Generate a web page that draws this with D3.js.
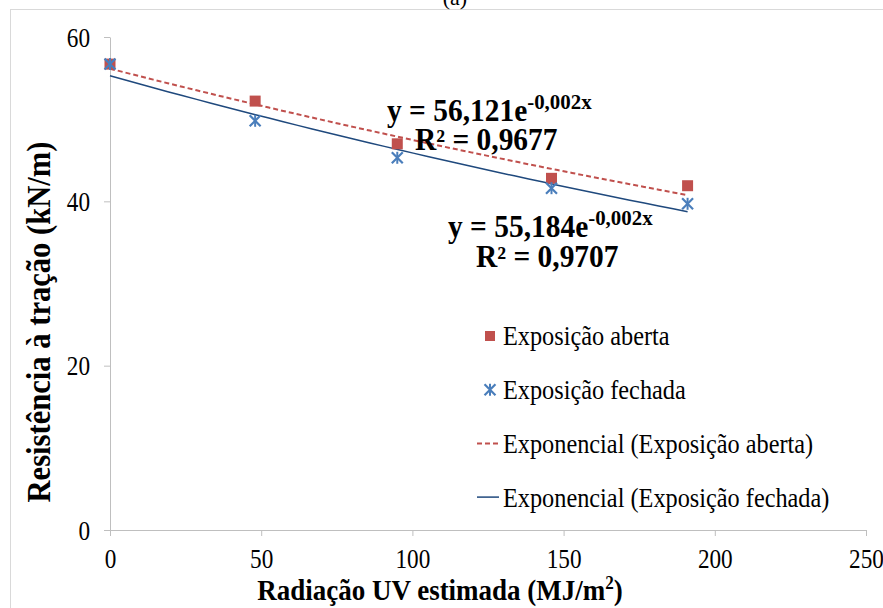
<!DOCTYPE html>
<html>
<head>
<meta charset="utf-8">
<script src="https://cdn.jsdelivr.net/npm/d3@7"></script>
<style>
  body { margin: 0; background: #fff; }
  text { font-family: "Liberation Serif", "Times New Roman", serif; }
</style>
</head>
<body>
<svg id="chart" width="883" height="608"></svg>
<script>
// Data
var radiacao = [0, 48, 95, 146, 191];
var aberta = [56.7, 52.2, 47.0, 42.8, 41.9];
var fechada = [56.7, 49.8, 45.3, 41.6, 39.7];
var xTicks = [0, 50, 100, 150, 200, 250];
var yTicks = [0, 20, 40, 60];
var legendLabels = ["Exposição aberta", "Exposição fechada",
    "Exponencial (Exposição aberta)", "Exponencial (Exposição fechada)"];

var svg = d3.select("#chart"),
    margin = {top: 37, right: 17, bottom: 78, left: 110},
    width = +svg.attr("width") - margin.left - margin.right,
    height = +svg.attr("height") - margin.top - margin.bottom;

var red = "#c0504d", blue = "#4a7ebb", darkBlue = "#1f497d", axisGray = "#bfbfbf";
var serif = "Liberation Serif, Times New Roman, serif";
var sx = 0.86; // the source picture has narrow, tall lettering

// Outer frame (chart area border, partly cut off)
svg.append("rect")
    .attr("x", 10.5).attr("y", 9.5)
    .attr("width", 900).attr("height", 700)
    .attr("fill", "none")
    .attr("stroke", "#d9d9d9");

// Figure label at the top, mostly clipped
svg.append("text")
    .attr("x", 455).attr("y", 5)
    .attr("font-family", serif)
    .style("text-anchor", "middle")
    .style("font-size", "22px")
    .text("(a)");

var x = d3.scaleLinear().domain([0, 250]).range([0, width]),
    y = d3.scaleLinear().domain([0, 60]).range([height, 0]);

var g = svg.append("g")
    .attr("transform", "translate(" + margin.left + "," + margin.top + ")");

// Axes
var xAxis = g.append("g")
    .attr("transform", "translate(0," + height + ")")
    .call(d3.axisBottom(x).tickValues(xTicks).tickSize(6).tickSizeOuter(0));
var yAxis = g.append("g")
    .call(d3.axisLeft(y).tickValues(yTicks).tickSize(6).tickSizeOuter(0));

[xAxis, yAxis].forEach(function(ax) {
    ax.attr("font-family", serif);
    ax.select(".domain").attr("stroke", axisGray);
    ax.selectAll(".tick line").attr("stroke", axisGray);
    ax.selectAll(".tick text")
        .attr("fill", "#000")
        .attr("font-family", serif)
        .style("font-size", "27px")
        .attr("transform", "scale(" + sx + ",1)");
});
xAxis.selectAll(".tick text").attr("dy", "0.95em").attr("y", 12);
yAxis.selectAll(".tick text").attr("x", -20 / sx).attr("dy", "0.34em");

// Exponential trendline, least squares on ln(y) like Excel
function expFit(xs, ys) {
    var n = xs.length;
    var ly = ys.map(function(v) { return Math.log(v); });
    var mx = d3.mean(xs), my = d3.mean(ly);
    var sxy = 0, sxx = 0;
    for (var i = 0; i < n; i++) {
        sxy += (xs[i] - mx) * (ly[i] - my);
        sxx += (xs[i] - mx) * (xs[i] - mx);
    }
    var b = sxy / sxx;
    return {a: Math.exp(my - b * mx), b: b};
}

function trendPoints(fit) {
    var xmax = d3.max(radiacao);
    return d3.range(0, 41).map(function(i) {
        var xv = xmax * i / 40;
        return [xv, fit.a * Math.exp(fit.b * xv)];
    });
}

var line = d3.line()
    .x(function(d) { return x(d[0]); })
    .y(function(d) { return y(d[1]); });

g.append("path")
    .datum(trendPoints(expFit(radiacao, fechada)))
    .attr("d", line)
    .attr("fill", "none")
    .attr("stroke", darkBlue)
    .attr("stroke-width", 1.5);

g.append("path")
    .datum(trendPoints(expFit(radiacao, aberta)))
    .attr("d", line)
    .attr("fill", "none")
    .attr("stroke", red)
    .attr("stroke-width", 2)
    .attr("stroke-dasharray", "5,3");

// Markers
var sq = 11;
g.selectAll(".sq")
    .data(radiacao)
    .enter()
        .append("rect")
        .attr("class", "sq")
        .attr("x", function(d) { return x(d) - sq / 2; })
        .attr("y", function(d, i) { return y(aberta[i]) - sq / 2; })
        .attr("width", sq).attr("height", sq)
        .attr("fill", red);

var star = d3.symbol().type(d3.symbolTimes).size(80);
function asterisk(sel) {
    sel.append("path").attr("d", star).attr("stroke", blue).attr("stroke-width", 2.2).attr("fill", "none");
    sel.append("line").attr("x1", 0).attr("x2", 0).attr("y1", -6).attr("y2", 6)
        .attr("stroke", blue).attr("stroke-width", 2);
}
g.selectAll(".ast")
    .data(radiacao)
    .enter()
        .append("g")
        .attr("class", "ast")
        .attr("transform", function(d, i) { return "translate(" + x(d) + "," + y(fechada[i]) + ")"; })
        .call(asterisk);

// Text helper: narrow lettering like the source picture
function label(px, py, size, bold, scale) {
    return svg.append("g")
        .attr("transform", "translate(" + px + "," + py + ") scale(" + (scale || sx) + ",1)")
        .append("text")
        .attr("font-family", serif)
        .attr("font-weight", bold ? "bold" : "normal")
        .style("font-size", size + "px");
}

// Equation labels
function equation(px, py, coef, r2, gap) {
    var t = label(px, py, 31, true, 0.95);
    t.append("tspan").text("y = " + coef + "e");
    t.append("tspan").attr("dy", -12).style("font-size", "22px").text("-0,002x");
    label(px + 28, py + gap, 31, true, 0.95).text("R² = " + r2);
}
equation(387, 121, "56,121", "0,9677", 29);
equation(448, 237, "55,184", "0,9707", 30);

// Legend
var legendY = [336, 389.7, 443.4, 497.1];
legendLabels.forEach(function(d, i) {
    label(503, legendY[i], 27, false, 0.9).attr("dy", "0.35em").text(d);
});

var legend = svg.append("g").attr("transform", "translate(477,0)");
legend.append("rect").attr("x", 8).attr("y", legendY[0] - 5).attr("width", 10).attr("height", 10).attr("fill", red);
legend.append("g").attr("transform", "translate(13," + legendY[1] + ")").call(asterisk);
legend.append("line").attr("x1", 0).attr("x2", 22).attr("y1", legendY[2]).attr("y2", legendY[2])
    .attr("stroke", red).attr("stroke-width", 2).attr("stroke-dasharray", "5,3");
legend.append("line").attr("x1", 0).attr("x2", 22).attr("y1", legendY[3]).attr("y2", legendY[3])
    .attr("stroke", darkBlue).attr("stroke-width", 1.5);

// Axis titles
svg.append("g")
    .attr("transform", "translate(440,600) scale(0.9,1)")
    .append("text")
    .attr("font-family", serif)
    .style("text-anchor", "middle")
    .attr("font-weight", "bold")
    .style("font-size", "30px")
    .html("Radiação UV estimada (MJ/m<tspan dy='-11' font-size='19px'>2</tspan><tspan dy='11'>)</tspan>");

svg.append("g")
    .attr("transform", "translate(50,322) rotate(-90) scale(0.9,1)")
    .append("text")
    .attr("font-family", serif)
    .style("text-anchor", "middle")
    .attr("font-weight", "bold")
    .style("font-size", "34px")
    .text("Resistência à tração (kN/m)");
</script>
</body>
</html>
